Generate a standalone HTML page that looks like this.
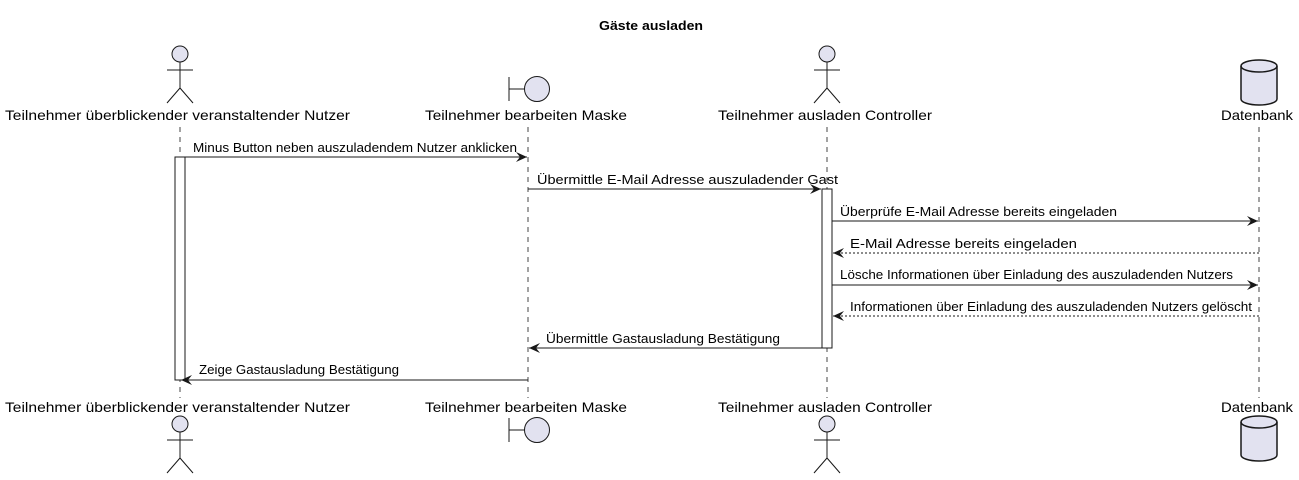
<!DOCTYPE html>
<html><head><meta charset="utf-8"><style>html,body{margin:0;padding:0;background:#fff}svg{display:block}</style></head><body>
<svg width="1299" height="480" xmlns="http://www.w3.org/2000/svg" font-family="'Liberation Sans', 'DejaVu Sans', sans-serif">
<defs><marker id="a" markerWidth="12" markerHeight="10" refX="11" refY="5" orient="auto" markerUnits="userSpaceOnUse"><path d="M0,0 L11,5 L0,10 L4,5 Z" fill="#181818"/></marker></defs>
<text x="599" y="30" textLength="104" lengthAdjust="spacingAndGlyphs" font-size="13" font-weight="bold">Gäste ausladen</text>
<g stroke="#181818" stroke-width="0.8" stroke-dasharray="5,5">
<line x1="180" y1="127" x2="180" y2="398"/><line x1="528" y1="127" x2="528" y2="398"/><line x1="827" y1="127" x2="827" y2="398"/><line x1="1259" y1="127" x2="1259" y2="398"/></g>
<g fill="#e2e2f0" stroke="#181818" stroke-width="1">
<circle cx="180" cy="54" r="8"/><path d="M180,62V88M167,70H193M180,88L167,103M180,88L193,103" fill="none"/>
<circle cx="827" cy="54" r="8"/><path d="M827,62V88M814,70H840M827,88L814,103M827,88L840,103" fill="none"/>
<circle cx="180" cy="424" r="8"/><path d="M180,432V458M167,440H193M180,458L167,473M180,458L193,473" fill="none"/>
<circle cx="827" cy="424" r="8"/><path d="M827,432V458M814,440H840M827,458L814,473M827,458L840,473" fill="none"/>
<path d="M509,77V101M509,89H524" fill="none"/><circle cx="537" cy="89" r="12.5"/>
<path d="M509,418V442M509,430H524" fill="none"/><circle cx="537" cy="430" r="12.5"/>
<path d="M1241,66 A18,6 0 0 1 1277,66 V99 A18,6 0 0 1 1241,99 Z" stroke-width="1.5"/><path d="M1241,66 A18,6 0 0 0 1277,66" fill="none" stroke-width="1.5"/>
<path d="M1241,422 A18,6 0 0 1 1277,422 V455 A18,6 0 0 1 1241,455 Z" stroke-width="1.5"/><path d="M1241,422 A18,6 0 0 0 1277,422" fill="none" stroke-width="1.5"/>
</g>
<g font-size="14" fill="#000" lengthAdjust="spacingAndGlyphs">
<text x="5" y="120" textLength="345" lengthAdjust="spacingAndGlyphs">Teilnehmer überblickender veranstaltender Nutzer</text>
<text x="425" y="120" textLength="202" lengthAdjust="spacingAndGlyphs">Teilnehmer bearbeiten Maske</text>
<text x="718" y="120" textLength="214" lengthAdjust="spacingAndGlyphs">Teilnehmer ausladen Controller</text>
<text x="1221" y="120" textLength="72" lengthAdjust="spacingAndGlyphs">Datenbank</text>
<text x="5" y="412" textLength="345" lengthAdjust="spacingAndGlyphs">Teilnehmer überblickender veranstaltender Nutzer</text>
<text x="425" y="412" textLength="202" lengthAdjust="spacingAndGlyphs">Teilnehmer bearbeiten Maske</text>
<text x="718" y="412" textLength="214" lengthAdjust="spacingAndGlyphs">Teilnehmer ausladen Controller</text>
<text x="1221" y="412" textLength="72" lengthAdjust="spacingAndGlyphs">Datenbank</text>
</g>
<g fill="#fff" stroke="#181818" stroke-width="1"><rect x="175" y="157" width="10" height="223"/><rect x="822" y="189" width="10" height="159"/></g>
<g stroke="#181818" stroke-width="1" marker-end="url(#a)">
<line x1="185" y1="157" x2="527" y2="157"/>
<line x1="528" y1="189" x2="821" y2="189"/>
<line x1="832" y1="221" x2="1258" y2="221"/>
<line x1="1259" y1="253" x2="833" y2="253" stroke-dasharray="2,2"/>
<line x1="832" y1="285" x2="1258" y2="285"/>
<line x1="1259" y1="316" x2="833" y2="316" stroke-dasharray="2,2"/>
<line x1="822" y1="348" x2="529" y2="348"/>
<line x1="528" y1="380" x2="181" y2="380"/>
</g>
<g font-size="13" fill="#000">
<text x="193" y="152" textLength="324" lengthAdjust="spacingAndGlyphs">Minus Button neben auszuladendem Nutzer anklicken</text>
<text x="537" y="184" textLength="301" lengthAdjust="spacingAndGlyphs">Übermittle E-Mail Adresse auszuladender Gast</text>
<text x="840" y="216" textLength="277" lengthAdjust="spacingAndGlyphs">Überprüfe E-Mail Adresse bereits eingeladen</text>
<text x="850" y="248" textLength="227" lengthAdjust="spacingAndGlyphs">E-Mail Adresse bereits eingeladen</text>
<text x="840" y="279" textLength="393" lengthAdjust="spacingAndGlyphs">Lösche Informationen über Einladung des auszuladenden Nutzers</text>
<text x="850" y="311" textLength="402" lengthAdjust="spacingAndGlyphs">Informationen über Einladung des auszuladenden Nutzers gelöscht</text>
<text x="546" y="343" textLength="234" lengthAdjust="spacingAndGlyphs">Übermittle Gastausladung Bestätigung</text>
<text x="199" y="374" textLength="200" lengthAdjust="spacingAndGlyphs">Zeige Gastausladung Bestätigung</text>
</g>
</svg>
</body></html>
